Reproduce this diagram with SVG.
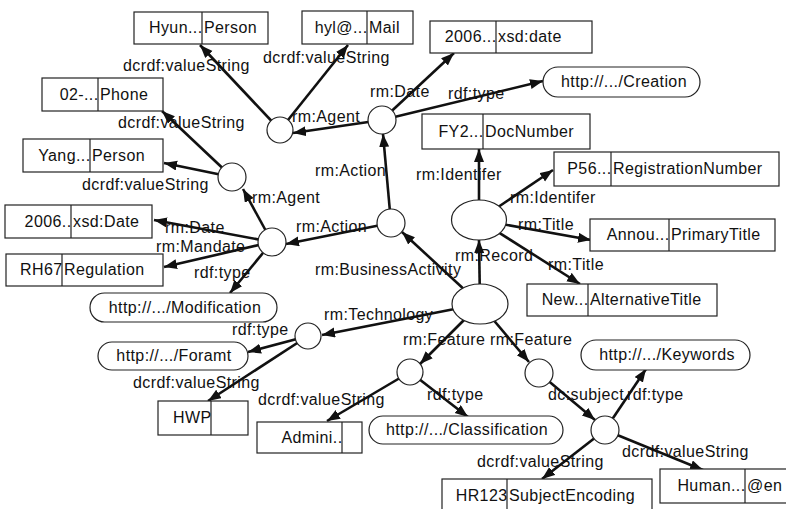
<svg xmlns="http://www.w3.org/2000/svg" width="786" height="509" viewBox="0 0 786 509">
  <style>
    text { font-family: "Liberation Sans", Arial, sans-serif; font-size: 16px; letter-spacing: 0.4px; fill: #111; }
    .edge { stroke: #111; stroke-width: 2.6; fill: none; marker-end: url(#arrow); }
    .box, .pill, .blank { fill: #fff; stroke: #222; stroke-width: 1.2; }
    .div { stroke: #222; stroke-width: 1.2; }
    .lt { text-anchor: end; }
    .mid { text-anchor: middle; }
  </style>
  <defs>
    <marker id="arrow" markerUnits="userSpaceOnUse" markerWidth="14" markerHeight="11" refX="13" refY="5" orient="auto">
      <path d="M0,0 L13,5 L0,10 z" fill="#111"/>
    </marker>
  </defs>
  <rect width="786" height="509" fill="#fff"/>

  <!-- connectors and their property labels -->
  <g id="connectors">
    <line class="edge" x1="280" y1="130" x2="200" y2="45"/>
    <line class="edge" x1="280" y1="130" x2="348" y2="45"/>
    <line class="edge" x1="382" y1="120" x2="293" y2="133"/>
    <line class="edge" x1="382" y1="120" x2="454" y2="53"/>
    <line class="edge" x1="382" y1="120" x2="543" y2="81"/>
    <line class="edge" x1="391" y1="223" x2="383" y2="134"/>
    <line class="edge" x1="391" y1="223" x2="286" y2="244"/>
    <line class="edge" x1="272" y1="242" x2="243" y2="189"/>
    <line class="edge" x1="232" y1="177" x2="162" y2="111"/>
    <line class="edge" x1="232" y1="177" x2="164" y2="163"/>
    <line class="edge" x1="272" y1="242" x2="154" y2="220"/>
    <line class="edge" x1="272" y1="242" x2="164" y2="267"/>
    <line class="edge" x1="272" y1="242" x2="230" y2="293"/>
    <line class="edge" x1="480" y1="304" x2="402" y2="232"/>
    <line class="edge" x1="480" y1="304" x2="479" y2="240"/>
    <line class="edge" x1="479" y1="220" x2="479" y2="149"/>
    <line class="edge" x1="479" y1="220" x2="553" y2="170"/>
    <line class="edge" x1="479" y1="220" x2="591" y2="240"/>
    <line class="edge" x1="479" y1="220" x2="580" y2="284"/>
    <line class="edge" x1="480" y1="304" x2="322" y2="335"/>
    <line class="edge" x1="308" y1="336" x2="248" y2="352"/>
    <line class="edge" x1="308" y1="336" x2="208" y2="401"/>
    <line class="edge" x1="480" y1="304" x2="420" y2="364"/>
    <line class="edge" x1="480" y1="304" x2="529" y2="362"/>
    <line class="edge" x1="410" y1="372" x2="327" y2="421"/>
    <line class="edge" x1="410" y1="372" x2="468" y2="417"/>
    <line class="edge" x1="539" y1="373" x2="595" y2="420"/>
    <line class="edge" x1="605" y1="430" x2="646" y2="369"/>
    <line class="edge" x1="605" y1="430" x2="542" y2="479"/>
    <line class="edge" x1="605" y1="430" x2="703" y2="470"/>

    <text x="123" y="71">dcrdf:valueString</text>
    <text x="263" y="63">dcrdf:valueString</text>
    <text x="292" y="122">rm:Agent</text>
    <text x="370" y="97">rm:Date</text>
    <text x="448" y="99">rdf:type</text>
    <text x="315" y="176">rm:Action</text>
    <text x="296" y="232">rm:Action</text>
    <text x="252" y="203">rm:Agent</text>
    <text x="118" y="128">dcrdf:valueString</text>
    <text x="82" y="190">dcrdf:valueString</text>
    <text x="165" y="233">rm:Date</text>
    <text x="156" y="252">rm:Mandate</text>
    <text x="194" y="278">rdf:type</text>
    <text x="315" y="275">rm:BusinessActivity</text>
    <text x="455" y="261">rm:Record</text>
    <text x="416" y="180">rm:Identifer</text>
    <text x="510" y="203">rm:Identifer</text>
    <text x="518" y="230">rm:Title</text>
    <text x="548" y="270">rm:Title</text>
    <text x="324" y="320">rm:Technology</text>
    <text x="232" y="335">rdf:type</text>
    <text x="133" y="388">dcrdf:valueString</text>
    <text x="403" y="345">rm:Feature</text>
    <text x="490" y="345">rm:Feature</text>
    <text x="258" y="405">dcrdf:valueString</text>
    <text x="427" y="400">rdf:type</text>
    <text x="548" y="400">dc:subject</text>
    <text x="627" y="400">rdf:type</text>
    <text x="477" y="467">dcrdf:valueString</text>
    <text x="622" y="457">dcrdf:valueString</text>
  </g>

  <!-- blank nodes -->
  <g id="b_agent1"><circle class="blank" cx="280" cy="130" r="13"/></g>
  <g id="b_action1"><circle class="blank" cx="382" cy="120" r="14"/></g>
  <g id="b_agent2"><circle class="blank" cx="232" cy="177" r="14"/></g>
  <g id="b_mandate"><circle class="blank" cx="272" cy="242" r="14"/></g>
  <g id="b_action2"><circle class="blank" cx="391" cy="223" r="14"/></g>
  <g id="b_record"><ellipse class="blank" cx="479" cy="220" rx="27.5" ry="20"/></g>
  <g id="b_root"><ellipse class="blank" cx="480" cy="304" rx="28" ry="20"/></g>
  <g id="b_tech"><circle class="blank" cx="308" cy="336" r="13"/></g>
  <g id="b_feature1"><circle class="blank" cx="410" cy="372" r="13"/></g>
  <g id="b_feature2"><circle class="blank" cx="539" cy="373" r="14"/></g>
  <g id="b_subject"><circle class="blank" cx="605" cy="430" r="14"/></g>

  <!-- literal nodes: value | datatype -->
  <g id="n_hyun"><rect class="box" x="134" y="12" width="134" height="32"/><line class="div" x1="202" y1="12" x2="202" y2="44"/><text class="lt" x="202.5" y="33">Hyun...</text><text x="204" y="33">Person</text></g>
  <g id="n_mail"><rect class="box" x="302" y="11" width="111" height="33"/><line class="div" x1="367" y1="11" x2="367" y2="44"/><text class="lt" x="367.5" y="33">hyl@...</text><text x="369" y="33">Mail</text></g>
  <g id="n_date1"><rect class="box" x="430" y="21" width="162" height="32"/><line class="div" x1="496" y1="21" x2="496" y2="53"/><text class="lt" x="496.5" y="42">2006...</text><text x="498" y="42">xsd:date</text></g>
  <g id="n_phone"><rect class="box" x="42" y="78" width="121" height="33"/><line class="div" x1="98" y1="78" x2="98" y2="111"/><text class="lt" x="98.5" y="100">02-...</text><text x="100" y="100">Phone</text></g>
  <g id="n_yang"><rect class="box" x="23" y="139" width="140" height="33"/><line class="div" x1="90" y1="139" x2="90" y2="172"/><text class="lt" x="90.5" y="161">Yang...</text><text x="92" y="161">Person</text></g>
  <g id="n_docnum"><rect class="box" x="422" y="114" width="168" height="35"/><line class="div" x1="483" y1="114" x2="483" y2="149"/><text class="lt" x="483.5" y="137">FY2...</text><text x="485" y="137">DocNumber</text></g>
  <g id="n_regnum"><rect class="box" x="554" y="152" width="225" height="34"/><line class="div" x1="611" y1="152" x2="611" y2="186"/><text class="lt" x="611.5" y="174">P56...</text><text x="613" y="174">RegistrationNumber</text></g>
  <g id="n_date2"><rect class="box" x="5" y="205" width="147" height="33"/><line class="div" x1="71" y1="205" x2="71" y2="238"/><text class="lt" x="71.5" y="227">2006..</text><text x="73" y="227">xsd:Date</text></g>
  <g id="n_reg"><rect class="box" x="6" y="254" width="157" height="32"/><line class="div" x1="62" y1="254" x2="62" y2="286"/><text class="lt" x="62.5" y="275">RH67</text><text x="64" y="275">Regulation</text></g>
  <g id="n_ptitle"><rect class="box" x="590" y="219" width="185" height="32"/><line class="div" x1="669" y1="219" x2="669" y2="251"/><text class="lt" x="669.5" y="240">Annou...</text><text x="671" y="240">PrimaryTitle</text></g>
  <g id="n_atitle"><rect class="box" x="527" y="284" width="190" height="32"/><line class="div" x1="588" y1="284" x2="588" y2="316"/><text class="lt" x="588.5" y="305">New...</text><text x="590" y="305">AlternativeTitle</text></g>
  <g id="n_hwp"><rect class="box" x="158" y="401" width="90" height="34"/><line class="div" x1="211" y1="401" x2="211" y2="435"/><text class="lt" x="211.5" y="423">HWP</text></g>
  <g id="n_admin"><rect class="box" x="257" y="422" width="105" height="31"/><line class="div" x1="342" y1="422" x2="342" y2="453"/><text class="lt" x="342.5" y="443">Admini..</text></g>
  <g id="n_hr"><rect class="box" x="442" y="479" width="210" height="40"/><line class="div" x1="507" y1="479" x2="507" y2="509"/><text class="lt" x="507.5" y="501">HR123</text><text x="509" y="501">SubjectEncoding</text></g>
  <g id="n_human"><rect class="box" x="660" y="469" width="130" height="34"/><line class="div" x1="745" y1="469" x2="745" y2="503"/><text class="lt" x="745.5" y="491">Human...</text><text x="747" y="491">@en</text></g>

  <!-- resource type nodes -->
  <g id="r_creation"><rect class="pill" x="543" y="67" width="157" height="30" rx="15"/><text class="mid" x="624" y="87">http://.../Creation</text></g>
  <g id="r_modification"><rect class="pill" x="90" y="293" width="187" height="29" rx="14.5"/><text class="mid" x="185" y="313">http://.../Modification</text></g>
  <g id="r_format"><rect class="pill" x="98" y="342" width="150" height="28" rx="14"/><text class="mid" x="174" y="361">http://.../Foramt</text></g>
  <g id="r_classification"><rect class="pill" x="369" y="416" width="194" height="28" rx="14"/><text class="mid" x="467" y="435">http://.../Classification</text></g>
  <g id="r_keywords"><rect class="pill" x="581" y="340" width="169" height="30" rx="15"/><text class="mid" x="667" y="360">http://.../Keywords</text></g>
</svg>
